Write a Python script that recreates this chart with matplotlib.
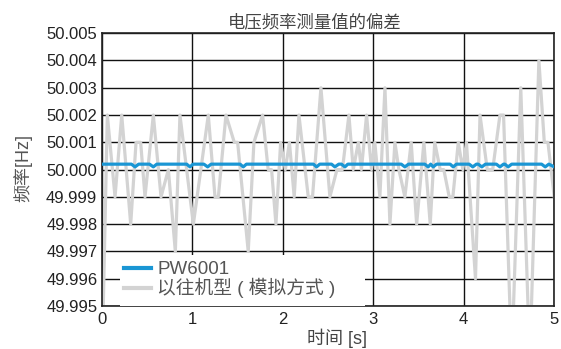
import matplotlib
matplotlib.use('Agg')
import matplotlib.pyplot as plt
from matplotlib.patches import Rectangle

plt.rcParams['font.family'] = ['Liberation Sans', 'Noto Sans CJK SC']

# 以往机型 (模拟方式)
old_t = [0.00, 0.064, 0.149, 0.223, 0.322, 0.381, 0.432, 0.480, 0.572, 0.657,
         0.738, 0.815, 0.866, 1.014, 1.179, 1.253, 1.290, 1.374, 1.466, 1.503,
         1.620, 1.683, 1.779, 1.840, 1.878, 1.926, 1.978, 2.030, 2.075, 2.128,
         2.180, 2.283, 2.330, 2.423, 2.522, 2.600, 2.660, 2.732, 2.780, 2.836,
         2.870, 2.927, 2.982, 3.018, 3.074, 3.130, 3.185, 3.240, 3.284, 3.350,
         3.420, 3.480, 3.560, 3.630, 3.680, 3.740, 3.780, 3.840, 3.880, 3.940,
         3.990, 4.030, 4.130, 4.180, 4.260, 4.320, 4.400, 4.440, 4.530, 4.630,
         4.730, 4.830, 4.890, 4.930, 5.000]
old_v = [49.992, 50.002, 49.999, 50.002, 49.998, 50.001, 50.001, 49.999, 50.002, 49.999,
         50.000, 49.997, 50.002, 49.998, 50.002, 49.999, 49.999, 50.002, 50.001, 50.001,
         49.997, 50.001, 50.002, 50.000, 50.000, 49.998, 50.001, 50.000, 50.001, 49.999,
         50.002, 49.999, 49.999, 50.003, 49.999, 50.000, 50.000, 50.002, 50.000, 50.001,
         50.000, 50.002, 50.000, 50.001, 49.999, 50.003, 49.998, 50.001, 50.000, 49.999,
         50.001, 49.998, 50.001, 49.998, 50.001, 50.000, 50.000, 49.999, 49.999, 50.001,
         50.000, 50.001, 49.996, 50.002, 50.000, 50.000, 50.002, 50.002, 49.993, 50.003,
         49.993, 50.004, 50.001, 50.001, 49.999]

# PW6001
pw_t = [0.00, 0.33, 0.37, 0.41, 0.53, 0.572, 0.61, 0.94, 0.977, 1.01,
        1.13, 1.172, 1.21, 1.53, 1.565, 1.60, 2.34, 2.375, 2.41, 2.54,
        2.577, 2.62, 2.65, 2.688, 2.72, 3.31, 3.35, 3.39, 3.57, 3.607,
        3.635, 3.663, 3.70, 3.85, 3.884, 3.92, 4.06, 4.10, 4.14, 4.16,
        4.20, 4.24, 4.36, 4.40, 4.44, 4.455, 4.49, 4.53, 4.86, 4.90,
        4.94, 5.00]
pw_v = [50.0002, 50.0002, 50.0001, 50.0002, 50.0002, 50.0001, 50.0002, 50.0002, 50.0001, 50.0002,
        50.0002, 50.0001, 50.0002, 50.0002, 50.0001, 50.0002, 50.0002, 50.0001, 50.0002, 50.0002,
        50.0001, 50.0002, 50.0002, 50.0001, 50.0002, 50.0002, 50.0001, 50.0002, 50.0002, 50.0001,
        50.0002, 50.0001, 50.0002, 50.0002, 50.0001, 50.0002, 50.0002, 50.0001, 50.0002, 50.0002,
        50.0001, 50.0002, 50.0002, 50.0001, 50.0002, 50.0002, 50.0001, 50.0002, 50.0002, 50.0001,
        50.0002, 50.0001]

x_ticks = [0, 1, 2, 3, 4, 5]
y_ticks = [49.995, 49.996, 49.997, 49.998, 49.999, 50.000,
           50.001, 50.002, 50.003, 50.004, 50.005]
y_labels = ['49.995', '49.996', '49.997', '49.998', '49.999', '50.000',
            '50.001', '50.002', '50.003', '50.004', '50.005']

fig = plt.figure(figsize=(5.61, 3.49), dpi=100)
ax = fig.add_axes([0.181, 0.123, 0.807, 0.782])

ax.plot(old_t, old_v, color='#d3d3d3', lw=2.3, label='以往机型 ( 模拟方式 )', zorder=2)
ax.plot(pw_t, pw_v, color='#1a96d4', lw=2.3, label='PW6001', zorder=3)

ax.set_xlim(0, 5)
ax.set_ylim(49.995, 50.005)
ax.set_xticks(x_ticks)
ax.set_xticklabels([str(x) for x in x_ticks])
ax.set_yticks(y_ticks)
ax.set_yticklabels(y_labels)
ax.tick_params(length=0, labelsize=12, labelcolor='#222222')
ax.tick_params(axis='y', pad=3)
ax.tick_params(axis='x', pad=4)
ax.grid(True, color='#111111', lw=1.0, zorder=1)
ax.set_axisbelow(True)
for s in ax.spines.values():
    s.set_linewidth(1.2)
    s.set_color('#222222')

ax.set_title('电压频率测量值的偏差', fontsize=12.5, color='#444444', pad=4, x=0.471)
ax.set_xlabel('时间 [s]', fontsize=13, color='#444444')
ax.xaxis.set_label_coords(0.52, -0.082)
ax.set_ylabel('频率[Hz]', fontsize=13, color='#555555')
ax.yaxis.set_label_coords(-0.153, 0.505)

# white background behind the legend
ax.add_patch(Rectangle((0.041, 0.0), 0.541, 0.187, transform=ax.transAxes,
                       facecolor='white', edgecolor='none', zorder=4))

h, l = ax.get_legend_handles_labels()
leg = ax.legend(h[::-1], l[::-1], loc='lower left', bbox_to_anchor=(0.049, 0.028),
                fontsize=13.5, frameon=False, borderpad=0,
                handlelength=1.45, handletextpad=0.35, labelspacing=0.0,
                borderaxespad=0)
leg.set_zorder(5)
for t in leg.get_texts():
    t.set_color('#555555')
for ln in leg.get_lines():
    ln.set_linewidth(3.0)

plt.savefig('out.png', dpi=100)
